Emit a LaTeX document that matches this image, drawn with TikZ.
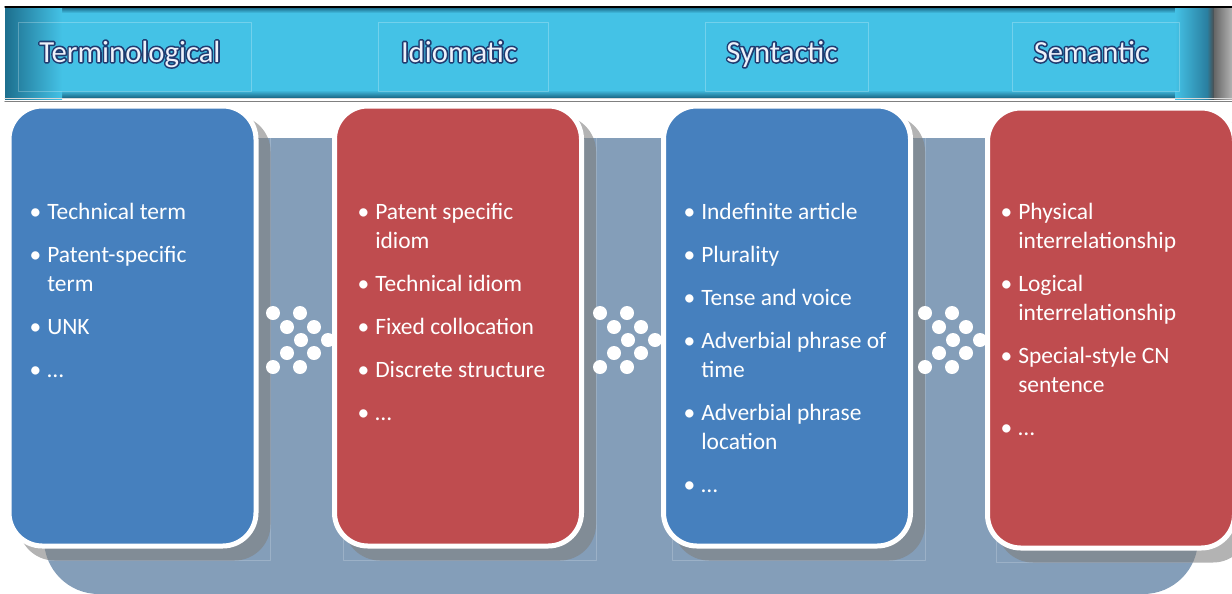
\documentclass[tikz,border=0pt]{standalone}
\usepackage{fontspec}
\setmainfont{Carlito}
\definecolor{bandcyan}{HTML}{44C2E6}
\definecolor{banddark}{HTML}{1D6F8E}
\definecolor{bandend}{HTML}{2A7FA0}
\definecolor{boxblue}{HTML}{4680BE}
\definecolor{boxred}{HTML}{BF4C4F}
\definecolor{slate}{HTML}{849EB9}
\definecolor{titlewhite}{HTML}{EEF1FA}
\newcommand\bul{\llap{\textbullet\hspace{4.5pt}}}
% outlined title text: navy stroke behind, light fill on top
\newcommand\outlined[1]{\rlap{\special{pdf:literal direct 1 Tr 2.4 w 0.12 0.23 0.44 RG}#1\special{pdf:literal direct 0 Tr}}#1}
\begin{document}
\begin{tikzpicture}[x=0.75pt, y=-0.75pt, line join=round, line cap=round,
    title/.style={anchor=base, inner sep=0pt, text=titlewhite, font=\fontsize{23}{27}\selectfont},
    entry/.style={anchor=base west, inner sep=0pt, text=white, font=\fontsize{17.6}{21}\selectfont},
    card/.style={draw=white, line width=3.75pt, rounded corners=25pt},
    cardshadow/.style={fill=gray, fill opacity=0.6, rounded corners=27pt}]
\useasboundingbox (0,0) rectangle (1232,593);
% header band
\fill[bandcyan] (5,8) rectangle (1232,99);
\shade[top color=banddark, bottom color=bandcyan] (5,8) rectangle (1232,13);
\shade[top color=bandcyan, bottom color=banddark] (5,90) rectangle (1232,97);
\shade[left color=banddark, right color=bandcyan] (5,8) rectangle (62,99);
\shade[left color=bandcyan, right color=bandend] (1175,8) rectangle (1207,99);
\shade[left color=bandend, right color=black!70] (1207,8) rectangle (1214,99);
\shade[left color=black!60, right color=black!30] (1214,8) rectangle (1232,99);
\draw[line width=1pt] (5,7)--(1232,7);
\draw[white!85!black, line width=0.8pt] (5,98.5)--(1232,98.5);
\draw[gray, line width=0.8pt] (5,101.5)--(1232,101.5);
\foreach \xa/\xb in {18/251,378/548,705/868,1012/1179}
    \draw[white, opacity=0.25, line width=0.5pt] (\xa,22) rectangle (\xb,91);
\foreach \t/\x [count=\i] in {Terminological/130,Idiomatic/459,Syntactic/782,Semantic/1091}
    \node[title] (h\i) at (\x,62) {\outlined{\t}};
% slate base and shadows
\fill[slate, rounded corners=41pt] (44,138) rectangle (1198,594);
\foreach \xa/\ya in {9/106,334.5/106,663.5/106,987.5/108}{
    \draw[white, opacity=0.2, line width=0.5pt] (\xa+9,\ya+10) rectangle (\xa+261.5,\ya+454.5);
    \fill[cardshadow] (\xa+9.5,\ya+9.5) rectangle (\xa+261.5,\ya+454.5);
}
\foreach \bx in {273,600,925}
    \foreach \dx/\dy in {0/0,27/0,14/14,41/14,28/27,55/27,14/40,41/40,0/54,27/54}
        \fill[white] (\bx+\dx,313+\dy) circle (5.25pt);
% cards
\foreach \xa/\ya/\c in {9/106/boxblue,334.5/106/boxred,663.5/106/boxblue,987.5/108/boxred}
    \draw[card, fill=\c] (\xa,\ya) rectangle +(247,440);
\foreach \y/\t [count=\j] in {219/\bul Technical term,262/\bul Patent-specific,291/term,334/\bul UNK,377/\bul …}
    \node[entry] (t1-\j) at (47,\y) {\t};
\foreach \y/\t [count=\j] in {219/\bul Patent specific,248/idiom,291/\bul Technical idiom,334/\bul Fixed collocation,377/\bul Discrete structure,420/\bul …}
    \node[entry] (t2-\j) at (375,\y) {\t};
\foreach \y/\t [count=\j] in {219/\bul Indefinite article,262/\bul Plurality,305/\bul Tense and voice,348/\bul Adverbial phrase of,377/time,420/\bul Adverbial phrase,449/location,492/\bul …}
    \node[entry] (t3-\j) at (701,\y) {\t};
\foreach \y/\t [count=\j] in {219/\bul Physical,248/interrelationship,291/\bul Logical,320/interrelationship,363/\bul Special-style CN,392/sentence,435/\bul …}
    \node[entry] (t4-\j) at (1018,\y) {\t};
\end{tikzpicture}
\end{document}
